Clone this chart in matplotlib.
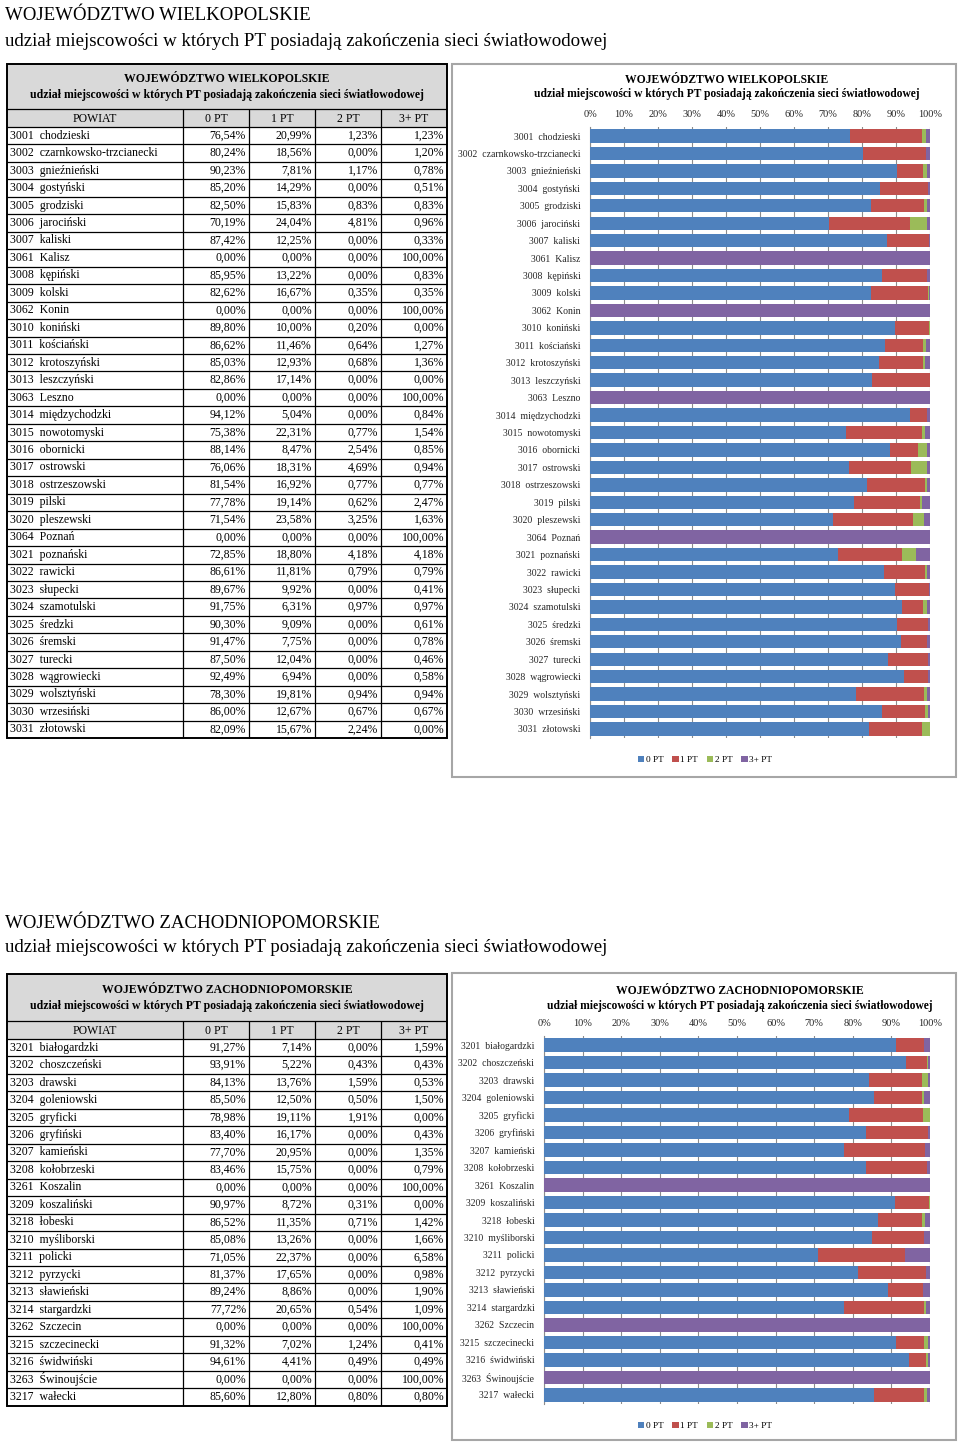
"""Two voivodeship pages: table of PT shares per powiat + 100% stacked bar chart."""

import matplotlib

matplotlib.use("Agg")
import matplotlib.pyplot as plt
from matplotlib.patches import Rectangle

plt.rcParams["font.family"] = ["Liberation Serif", "DejaVu Serif"]

W, H = 960, 1444

HEADER = ["POWIAT", "0 PT", "1 PT", "2 PT", "3+ PT"]
SERIES = ["0 PT", "1 PT", "2 PT", "3+ PT"]
COLORS = ["#4f81bd", "#c0504d", "#9bbb59", "#8064a2"]

TITLE_WLKP = "WOJEWÓDZTWO WIELKOPOLSKIE"
TITLE_ZP = "WOJEWÓDZTWO ZACHODNIOPOMORSKIE"
SUBTITLE = "udział miejscowości w których PT posiadają zakończenia sieci światłowodowej"

# --- WOJEWÓDZTWO WIELKOPOLSKIE ---
wlkp_powiat = [
    "3001  chodzieski", "3002  czarnkowsko-trzcianecki", "3003  gnieźnieński",
    "3004  gostyński", "3005  grodziski", "3006  jarociński", "3007  kaliski",
    "3061  Kalisz", "3008  kępiński", "3009  kolski", "3062  Konin",
    "3010  koniński", "3011  kościański", "3012  krotoszyński", "3013  leszczyński",
    "3063  Leszno", "3014  międzychodzki", "3015  nowotomyski", "3016  obornicki",
    "3017  ostrowski", "3018  ostrzeszowski", "3019  pilski", "3020  pleszewski",
    "3064  Poznań", "3021  poznański", "3022  rawicki", "3023  słupecki",
    "3024  szamotulski", "3025  średzki", "3026  śremski", "3027  turecki",
    "3028  wągrowiecki", "3029  wolsztyński", "3030  wrzesiński", "3031  złotowski",
]
wlkp_0pt = [76.54, 80.24, 90.23, 85.20, 82.50, 70.19, 87.42, 0.00, 85.95, 82.62,
            0.00, 89.80, 86.62, 85.03, 82.86, 0.00, 94.12, 75.38, 88.14, 76.06,
            81.54, 77.78, 71.54, 0.00, 72.85, 86.61, 89.67, 91.75, 90.30, 91.47,
            87.50, 92.49, 78.30, 86.00, 82.09]
wlkp_1pt = [20.99, 18.56, 7.81, 14.29, 15.83, 24.04, 12.25, 0.00, 13.22, 16.67,
            0.00, 10.00, 11.46, 12.93, 17.14, 0.00, 5.04, 22.31, 8.47, 18.31,
            16.92, 19.14, 23.58, 0.00, 18.80, 11.81, 9.92, 6.31, 9.09, 7.75,
            12.04, 6.94, 19.81, 12.67, 15.67]
wlkp_2pt = [1.23, 0.00, 1.17, 0.00, 0.83, 4.81, 0.00, 0.00, 0.00, 0.35,
            0.00, 0.20, 0.64, 0.68, 0.00, 0.00, 0.00, 0.77, 2.54, 4.69,
            0.77, 0.62, 3.25, 0.00, 4.18, 0.79, 0.00, 0.97, 0.00, 0.00,
            0.00, 0.00, 0.94, 0.67, 2.24]
wlkp_3pt = [1.23, 1.20, 0.78, 0.51, 0.83, 0.96, 0.33, 100.00, 0.83, 0.35,
            100.00, 0.00, 1.27, 1.36, 0.00, 100.00, 0.84, 1.54, 0.85, 0.94,
            0.77, 2.47, 1.63, 100.00, 4.18, 0.79, 0.41, 0.97, 0.61, 0.78,
            0.46, 0.58, 0.94, 0.67, 0.00]

# --- WOJEWÓDZTWO ZACHODNIOPOMORSKIE ---
zp_powiat = [
    "3201  białogardzki", "3202  choszczeński", "3203  drawski", "3204  goleniowski",
    "3205  gryficki", "3206  gryfiński", "3207  kamieński", "3208  kołobrzeski",
    "3261  Koszalin", "3209  koszaliński", "3218  łobeski", "3210  myśliborski",
    "3211  policki", "3212  pyrzycki", "3213  sławieński", "3214  stargardzki",
    "3262  Szczecin", "3215  szczecinecki", "3216  świdwiński", "3263  Świnoujście",
    "3217  wałecki",
]
zp_0pt = [91.27, 93.91, 84.13, 85.50, 78.98, 83.40, 77.70, 83.46, 0.00, 90.97,
          86.52, 85.08, 71.05, 81.37, 89.24, 77.72, 0.00, 91.32, 94.61, 0.00, 85.60]
zp_1pt = [7.14, 5.22, 13.76, 12.50, 19.11, 16.17, 20.95, 15.75, 0.00, 8.72,
          11.35, 13.26, 22.37, 17.65, 8.86, 20.65, 0.00, 7.02, 4.41, 0.00, 12.80]
zp_2pt = [0.00, 0.43, 1.59, 0.50, 1.91, 0.00, 0.00, 0.00, 0.00, 0.31,
          0.71, 0.00, 0.00, 0.00, 0.00, 0.54, 0.00, 1.24, 0.49, 0.00, 0.80]
zp_3pt = [1.59, 0.43, 0.53, 1.50, 0.00, 0.43, 1.35, 0.79, 100.00, 0.00,
          1.42, 1.66, 6.58, 0.98, 1.90, 1.09, 100.00, 0.41, 0.49, 100.00, 0.80]

COL_X = [7, 183, 249, 315, 381, 447]
ROW_H = 17.46


def pct(v):
    return f"{v:.2f}".replace(".", ",") + "%"


def px_axes(fig, x0, y0, x1, y1):
    return fig.add_axes([x0 / W, 1 - y1 / H, (x1 - x0) / W, (y1 - y0) / H])


def draw_table(cv, top, title_h, title, names, series):
    head_top = top + title_h
    rows_top = head_top + 18
    n = len(names)
    bottom = rows_top + n * ROW_H
    cv.add_patch(Rectangle((COL_X[0], top), COL_X[-1] - COL_X[0], rows_top - top,
                           facecolor="#d9d9d9", edgecolor="none", zorder=1))
    cv.text(227, top + title_h * 0.33, title, ha="center", va="center",
            fontsize=8.5, fontweight="bold", zorder=3)
    cv.text(227, top + title_h * 0.68, SUBTITLE, ha="center", va="center",
            fontsize=8.5, fontweight="bold", zorder=3)
    # grid lines
    ys = [head_top, rows_top] + [rows_top + (i + 1) * ROW_H for i in range(n - 1)]
    cv.hlines(ys, COL_X[0], COL_X[-1], color="black", lw=0.9, zorder=2)
    cv.vlines(COL_X[1:-1], head_top, bottom, color="black", lw=0.9, zorder=2)
    cv.add_patch(Rectangle((COL_X[0], top), COL_X[-1] - COL_X[0], bottom - top,
                           facecolor="none", edgecolor="black", lw=1.4, zorder=4))
    # header row
    for j, lab in enumerate(HEADER):
        cv.text((COL_X[j] + COL_X[j + 1]) / 2, head_top + 9.5, lab,
                ha="center", va="center", fontsize=8.5, zorder=3)
    for i, name in enumerate(names):
        yc = rows_top + (i + 0.5) * ROW_H
        cv.text(COL_X[0] + 3, yc, name, ha="left", va="center", fontsize=8.5, zorder=3)
        for j, vals in enumerate(series):
            cv.text(COL_X[j + 2] - 3, yc, pct(vals[i]), ha="right", va="center",
                    fontsize=8.5, zorder=3)


def draw_chart(fig, cv, box, plot, title_x, title_y, title, names, series, legend_y):
    bx0, by0, bx1, by1 = box
    cv.add_patch(Rectangle((bx0, by0), bx1 - bx0, by1 - by0, facecolor="white",
                           edgecolor="#a6a6a6", lw=1.5, zorder=1))
    cv.text(title_x, title_y, title, ha="center", va="center", fontsize=8.4,
            fontweight="bold", zorder=3)
    cv.text(title_x, title_y + 14.5, SUBTITLE, ha="center", va="center", fontsize=8.3,
            fontweight="bold", zorder=3)

    ax = px_axes(fig, *plot)
    n = len(names)
    y = list(range(n))
    left = [0.0] * n
    for lab, col, vals in zip(SERIES, COLORS, series):
        ax.barh(y, vals, left=left, height=0.77, color=col, label=lab, zorder=3)
        left = [a + b for a, b in zip(left, vals)]
    ax.set_xlim(0, 100)
    ax.set_ylim(n - 0.5, -0.5)
    ax.set_xticks(range(0, 101, 10))
    ax.set_xticklabels([f"{t}%" for t in range(0, 101, 10)], fontsize=7.5, color="#262626")
    ax.xaxis.tick_top()
    ax.tick_params(axis="x", length=0, pad=6)
    ax.set_yticks(y)
    ax.set_yticklabels(names, fontsize=7, color="#262626")
    ax.tick_params(axis="y", length=0, pad=7)
    ax.grid(axis="x", color="#8c8c8c", lw=0.8)
    ax.set_axisbelow(True)
    for side in ("top", "right", "bottom"):
        ax.spines[side].set_visible(False)
    ax.spines["left"].set_color("#8c8c8c")
    ax.legend(loc="center", bbox_to_anchor=(705 / W, 1 - legend_y / H),
              bbox_transform=fig.transFigure, ncol=4, frameon=False, fontsize=6.7,
              handlelength=0.7, handleheight=0.7, handletextpad=0.2, columnspacing=0.9)
    return ax


def main():
    fig = plt.figure(figsize=(W / 100, H / 100), dpi=100)
    cv = fig.add_axes([0, 0, 1, 1])
    cv.set_xlim(0, W)
    cv.set_ylim(H, 0)
    cv.axis("off")

    # page headings
    cv.text(5, 16, TITLE_WLKP, ha="left", va="center", fontsize=13.6)
    cv.text(5, 41, SUBTITLE, ha="left", va="center", fontsize=13.6)
    cv.text(5, 923, TITLE_ZP, ha="left", va="center", fontsize=13.6)
    cv.text(5, 948, SUBTITLE, ha="left", va="center", fontsize=13.6)

    wlkp = [wlkp_0pt, wlkp_1pt, wlkp_2pt, wlkp_3pt]
    zp = [zp_0pt, zp_1pt, zp_2pt, zp_3pt]

    draw_table(cv, 64, 45, TITLE_WLKP, wlkp_powiat, wlkp)
    draw_table(cv, 974, 47, TITLE_ZP, zp_powiat, zp)

    draw_chart(fig, cv, (452, 64, 956, 777), (590, 127.3, 930, 737.7),
               727, 80, TITLE_WLKP, wlkp_powiat, wlkp, 760)
    draw_chart(fig, cv, (452, 973, 956, 1440), (544, 1036.3, 930, 1403.7),
               740, 991, TITLE_ZP, zp_powiat, zp, 1426)

    fig.savefig("out.png", dpi=100)
    plt.close(fig)
    return 0


if __name__ == "__main__":
    raise SystemExit(main())
